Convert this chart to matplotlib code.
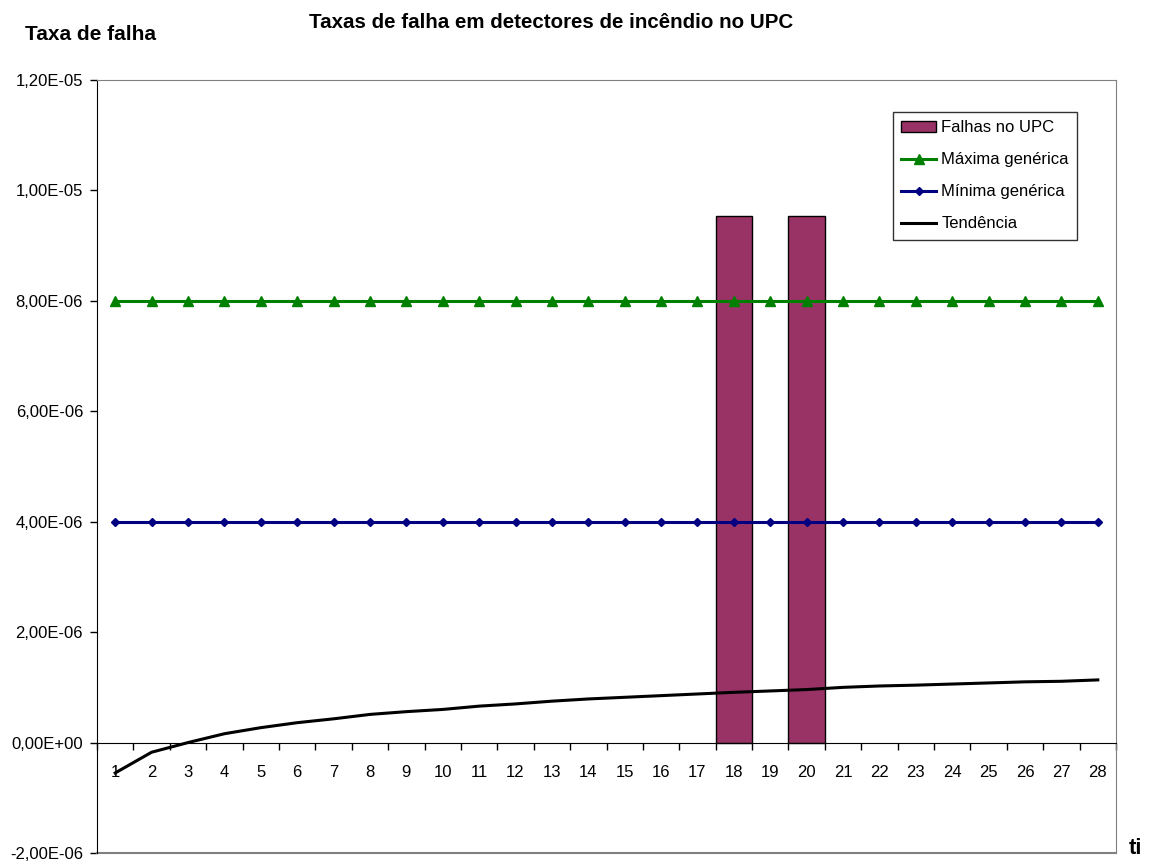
import matplotlib
matplotlib.use("Agg")
import matplotlib.pyplot as plt
from matplotlib.ticker import FixedLocator, FuncFormatter

plt.rcParams['font.family'] = ['Liberation Sans', 'DejaVu Sans']

# dados
categorias = list(range(1, 29))
falhas_upc = [0] * 17 + [9.54e-6, 0, 9.54e-6] + [0] * 8
maxima_generica = [8.0e-6] * 28
minima_generica = [4.0e-6] * 28
tendencia = [-0.55e-6, -0.175e-6, 0.0, 0.16e-6, 0.27e-6, 0.36e-6, 0.43e-6, 0.51e-6,
             0.56e-6, 0.60e-6, 0.66e-6, 0.70e-6, 0.75e-6, 0.79e-6, 0.82e-6, 0.85e-6,
             0.88e-6, 0.91e-6, 0.935e-6, 0.96e-6, 1.00e-6, 1.025e-6, 1.04e-6, 1.06e-6,
             1.08e-6, 1.10e-6, 1.11e-6, 1.135e-6]
yticks = [-2e-6, 0, 2e-6, 4e-6, 6e-6, 8e-6, 1e-5, 1.2e-5]

fig = plt.figure(figsize=(11.57, 8.68), dpi=100)
ax = fig.add_axes([97 / 1157, 1 - 853 / 868, (1116 - 97) / 1157, (853 - 80) / 868])

# barras (apenas onde há falhas)
xs = [c for c, v in zip(categorias, falhas_upc) if v > 0]
vs = [v for v in falhas_upc if v > 0]
barras = ax.bar(xs, vs, width=1.0, color='#993366', edgecolor='black', linewidth=1.0,
                label='Falhas no UPC', zorder=2)
l_max, = ax.plot(categorias, maxima_generica, color='#008000', linewidth=2.2, marker='^',
                 markersize=7, label='Máxima genérica', zorder=3)
l_min, = ax.plot(categorias, minima_generica, color='#000080', linewidth=2.2, marker='D',
                 markersize=4.5, label='Mínima genérica', zorder=3)
l_tend, = ax.plot(categorias, tendencia, color='black', linewidth=2.2, label='Tendência',
                  zorder=4)

ax.set_xlim(0.5, 28.5)
ax.set_ylim(-2e-6, 1.2e-5)

# eixo y
ax.set_yticks(yticks)
ax.yaxis.set_major_formatter(FuncFormatter(lambda v, p: f"{v:.2E}".replace('.', ',')))
ax.tick_params(axis='y', direction='out', length=5, pad=5, labelsize=12, width=1)

# eixo x passando em zero
ax.spines['bottom'].set_position(('data', 0))
ax.spines['bottom'].set_color('black')
ax.xaxis.set_major_locator(FixedLocator([k + 0.5 for k in range(0, 29)]))
ax.xaxis.set_minor_locator(FixedLocator(categorias))
ax.xaxis.set_major_formatter(FuncFormatter(lambda v, p: ''))
ax.xaxis.set_minor_formatter(FuncFormatter(lambda v, p: str(int(round(v)))))
ax.tick_params(axis='x', which='major', direction='out', length=5, width=1)
ax.tick_params(axis='x', which='minor', length=0, pad=16, labelsize=12)

for s in ['top', 'right']:
    ax.spines[s].set_color('#808080')
ax.spines['left'].set_color('black')
ax.axhline(-2e-6, color='#808080', linewidth=1.5, clip_on=False)

leg = ax.legend([barras, l_max, l_min, l_tend],
                ['Falhas no UPC', 'Máxima genérica', 'Mínima genérica', 'Tendência'],
                loc='upper right', bbox_to_anchor=(0.9617, 0.9586), frameon=True,
                fancybox=False, edgecolor='black', fontsize=12, handlelength=2.1,
                handletextpad=0.3, borderpad=0.5, labelspacing=1.02, borderaxespad=0)
leg.get_frame().set_linewidth(1.0)

fig.text(551 / 1157, 1 - 22 / 868, 'Taxas de falha em detectores de incêndio no UPC',
         ha='center', va='center', fontsize=14.8, fontweight='bold')
fig.text(25 / 1157, 1 - 35 / 868, 'Taxa de falha', ha='left', va='center',
         fontsize=15, fontweight='bold')
fig.text(1129 / 1157, 1 - 848 / 868, 'ti', ha='left', va='center',
         fontsize=16, fontweight='bold')

plt.savefig('out.png', dpi=100)
